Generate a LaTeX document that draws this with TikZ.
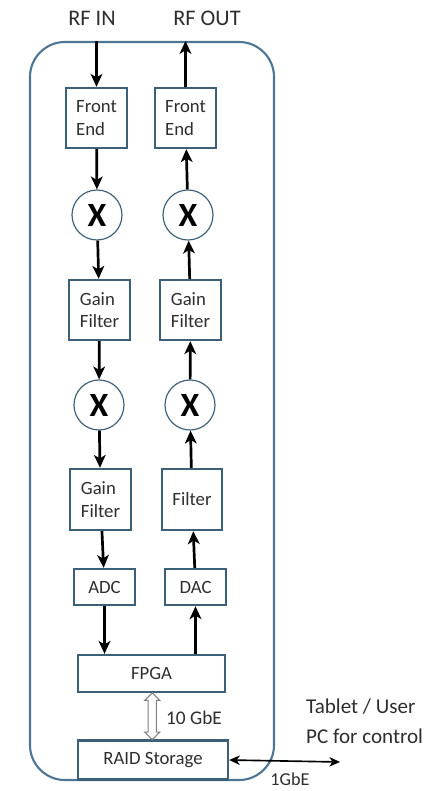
\documentclass[tikz,border=0pt]{standalone}
\usepackage{fontspec}
\setmainfont{Carlito}
\usepackage{xcolor}
\usepackage{tikz}
\usetikzlibrary{shapes,arrows.meta,positioning,calc}
\definecolor{boxblue}{HTML}{3D6079}
\definecolor{frameblue}{HTML}{4F7595}
\definecolor{txtgray}{HTML}{2E2E2E}

\begin{document}
\begin{tikzpicture}[x=0.03cm, y=-0.03cm,
    block/.style={rectangle, draw=boxblue, line width=2pt, fill=white, text=txtgray, align=left, inner sep=0pt, font=\fontsize{16}{19}\selectfont},
    mixer/.style={circle, draw=boxblue, line width=1pt, fill=white, minimum size=1.5cm, inner sep=0pt, font=\fontsize{29}{29}\selectfont\bfseries},
    sig/.style={line width=2.3pt, -{Stealth[length=11pt,width=10pt,inset=3pt]}},
    lbl/.style={text=txtgray, font=\fontsize{19}{25.5}\selectfont}]
    \useasboundingbox (0,0) rectangle (428,791);

    % outer box
    \node (frame) [draw=frameblue, line width=1.8pt, rounded corners=1.05cm, minimum width=7.32cm, minimum height=22.14cm] at (152,411) {};

    \node (rfin) [lbl] at (92,18) {RF IN};
    \node (rfout) [lbl] at (207,18) {RF OUT};

    % receive chain
    \node (fe1) [block, minimum width=1.83cm, minimum height=1.8cm] at (96.5,118) {Front\\End};
    \node (mix1) [mixer] at (97,215) {X};
    \node (gf1) [block, minimum width=1.83cm, minimum height=1.8cm] at (99.5,310) {Gain\\Filter};
    \node (mix3) [mixer] at (99,405) {X};
    \node (gf3) [block, minimum width=1.83cm, minimum height=1.83cm] at (100.5,499.5) {Gain\\Filter};
    \node (adc) [block, minimum width=1.83cm, minimum height=1.08cm] at (104.5,587) {ADC};

    % transmit chain
    \node (fe2) [block, minimum width=1.83cm, minimum height=1.8cm] at (185.5,118) {Front\\End};
    \node (mix2) [mixer] at (188,215) {X};
    \node (gf2) [block, minimum width=1.83cm, minimum height=1.8cm] at (190.5,310) {Gain\\Filter};
    \node (mix4) [mixer] at (190,405) {X};
    \node (filt) [block, minimum width=1.8cm, minimum height=1.83cm] at (192,499.5) {Filter};
    \node (dac) [block, minimum width=1.83cm, minimum height=1.08cm] at (195.5,587) {DAC};

    \node (fpga) [block, minimum width=4.41cm, minimum height=1.11cm] at (151.5,673.5) {FPGA};
    \node (raid) [block, minimum width=4.5cm, minimum height=1.17cm] at (153,760) {RAID Storage};

    \node (link) [double arrow, draw=gray, fill=white, line width=0.9pt, rotate=90, inner xsep=0pt, inner ysep=0.11cm, double arrow head extend=0.1cm, minimum height=1.4cm] at ($(fpga.south)!0.5!(raid.north)$) {};
    \node (gbe10) [lbl, anchor=west, font=\fontsize{16.5}{18}\selectfont] at (162,718) {10 GbE};

    \node (user) [lbl, anchor=west, align=left, font=\fontsize{18}{25.5}\selectfont] at (302,721) {Tablet / User\\PC for control};
    \coordinate (pc) at (340,762);
    \node (gbe1) [lbl, font=\fontsize{15.5}{18}\selectfont] at (290,779) {1GbE};

    \draw [sig] (frame.north -| fe1) -- (fe1);
    \draw [sig] (fe1) -- (mix1);
    \draw [sig] (mix1) -- (gf1);
    \draw [sig] (gf1) -- (mix3);
    \draw [sig] (mix3) -- (gf3);
    \draw [sig] (gf3) -- (adc);
    \draw [sig] (adc) -- (adc |- fpga.north);

    \draw [sig] (fpga.north -| dac) -- (dac);
    \draw [sig] (dac) -- (filt);
    \draw [sig] (filt) -- (mix4);
    \draw [sig] (mix4) -- (gf2);
    \draw [sig] (gf2) -- (mix2);
    \draw [sig] (mix2) -- (fe2);
    \draw [sig] (fe2) -- (frame.north -| fe2);

    \draw [line width=1.4pt, {Stealth[length=9pt,width=8pt,inset=2.5pt]}-{Stealth[length=9pt,width=8pt,inset=2.5pt]}] (raid.east) -- (pc);
\end{tikzpicture}
\end{document}
